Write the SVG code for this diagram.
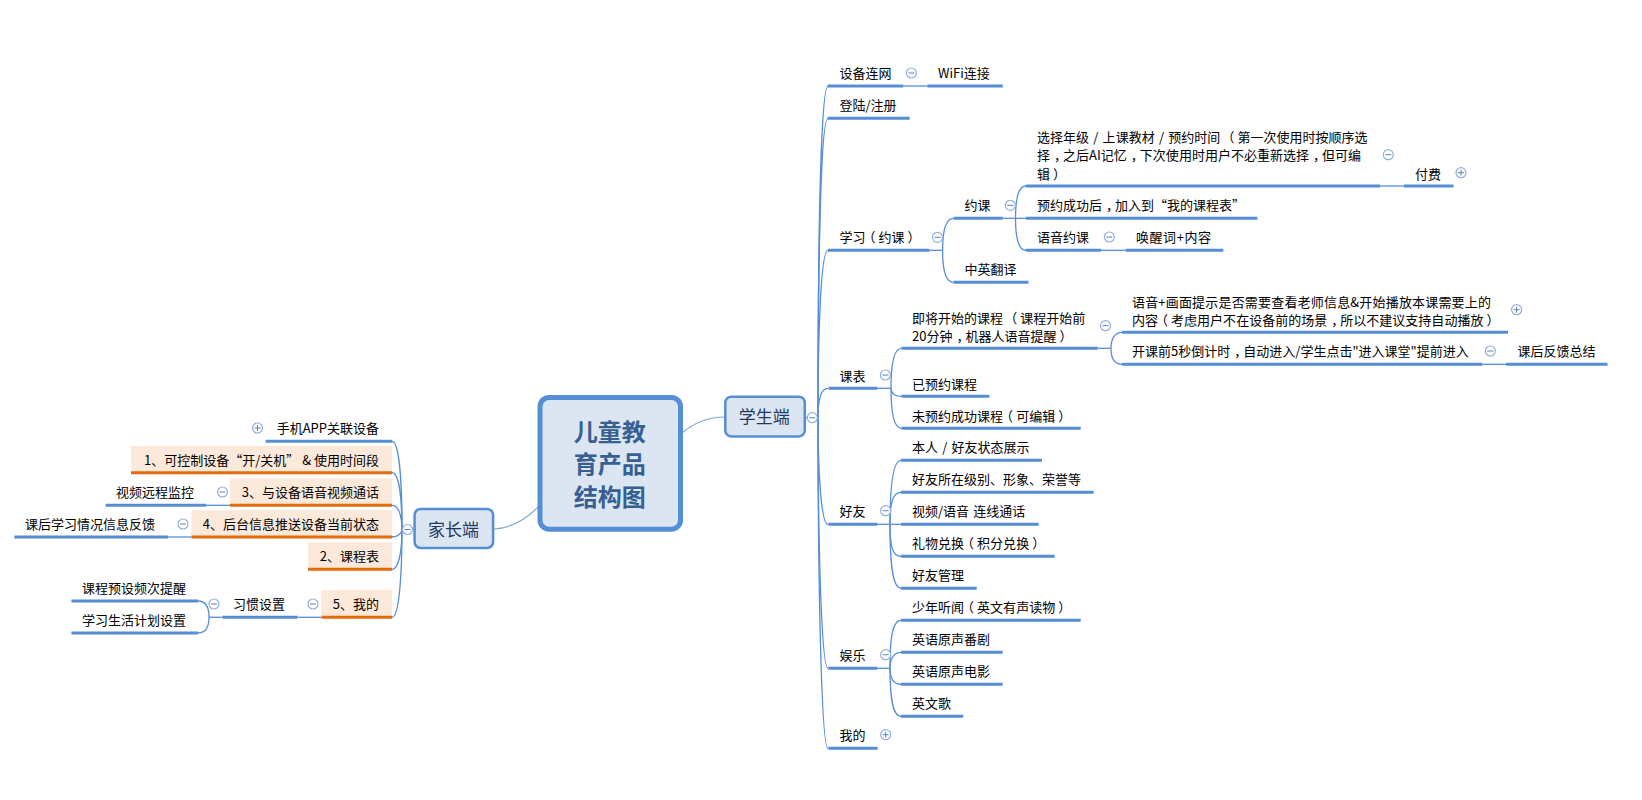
<svg xmlns="http://www.w3.org/2000/svg" width="1642" height="800" viewBox="0 0 1642 800">
<style>
text{font-family:"Noto Sans CJK SC","Noto Sans",sans-serif;font-size:13px;fill:#000;word-spacing:1.3px}
.u{stroke:#558ed5;stroke-width:3;fill:none}
.o{stroke:#e46c0a;stroke-width:3;fill:none}
.f{fill:#fde9d9}
.c{stroke:#558ed5;stroke-width:1.3;fill:none}
.l{stroke:#7ea6dc;stroke-width:1.2;fill:none}
.topic{fill:#dce6f2;stroke:#558ed5;stroke-width:2.500}
.btn circle{fill:#fff;stroke:#8fb0de;stroke-width:1.2}
.btn path{stroke:#5b7fb0;stroke-width:1;fill:none}
text.sub{font-size:17px;fill:#1f3a5f;text-anchor:middle}
text.main{font-size:24px;font-weight:700;fill:#376092;text-anchor:middle}
.e{text-anchor:end}
</style>
<defs>
<g id="minus" class="btn"><circle r="5"/><path d="M-3 0H3"/></g>
<g id="plus" class="btn"><circle r="5"/><path d="M-3 0H3M0 -3V3"/></g>
</defs>
<g id="connectors">
<path class="l" d="M682 433C695 422 708 417 725 417"/>
<path class="l" d="M494 529C512 528 526 520 540 505"/>
<path class="c" d="M805 417.5H818"/>
<path class="c" d="M818 417.5C818 280 820 86 828 86"/>
<path class="c" d="M818 417.5C818 290 820 118.3 828 118.3"/>
<path class="c" d="M818 417.5C818 350 820 250.3 828 250.3"/>
<path class="c" d="M818 417.5C818 402 820 388.3 828 388.3"/>
<path class="c" d="M818 417.5C818 470 821 524.3 828 524.3"/>
<path class="c" d="M818 417.5C818 530 821 668.3 828 668.3"/>
<path class="c" d="M818 417.5C818 570 821 748.3 828 748.3"/>
<path class="c" d="M903.4 86H927.4"/>
<path class="c" d="M929.5 250.3H942.6"/>
<path class="c" d="M942.6 250.3C942.6 232 945 218.3 953.5 218.3"/>
<path class="c" d="M942.6 250.3C942.6 268 945 282.3 953.5 282.3"/>
<path class="c" d="M1002.8 218.3H1026"/>
<path class="c" d="M1015.5 218.3C1015.5 200 1018 186 1026 186"/>
<path class="c" d="M1015.5 218.3C1015.5 236 1018 250.3 1026 250.3"/>
<path class="c" d="M1380 186H1404"/>
<path class="c" d="M1101.3 250.3H1125.7"/>
<path class="c" d="M877.7 388.3H891"/>
<path class="c" d="M891 388.3C891 366 893 348.3 901.4 348.3"/>
<path class="c" d="M891 388.3C891 393 894 396.3 901.4 396.3"/>
<path class="c" d="M891 388.3C891 410 893 428.3 901.4 428.3"/>
<path class="c" d="M1097.7 348.3H1111"/>
<path class="c" d="M1111 348.3C1111 340 1114 332.3 1122 332.3"/>
<path class="c" d="M1111 348.3C1111 357 1114 364.3 1122 364.3"/>
<path class="c" d="M1482.5 364.3H1506"/>
<path class="c" d="M877.7 524.3H901"/>
<path class="c" d="M890 524.3C890 490 892 460.3 901 460.3"/>
<path class="c" d="M890 524.3C890 505 892 492.3 901 492.3"/>
<path class="c" d="M890 524.3C890 545 892 556.3 901 556.3"/>
<path class="c" d="M890 524.3C890 560 892 588.3 901 588.3"/>
<path class="c" d="M877.7 668.3H890"/>
<path class="c" d="M890 668.3C890 640 892 620.3 901 620.3"/>
<path class="c" d="M890 668.3C890 660 893 652.3 901 652.3"/>
<path class="c" d="M890 668.3C890 677 893 684.3 901 684.3"/>
<path class="c" d="M890 668.3C890 695 892 716.3 901 716.3"/>
<path class="c" d="M413.6 529.5H402"/>
<path class="c" d="M402 529.5C402 490 400 441.3 392 441.3"/>
<path class="c" d="M402 529.5C402 505 400 472.7 392 472.7"/>
<path class="c" d="M402 529.5C402 520 400 505.3 392 505.3"/>
<path class="c" d="M402 529.5C402 533 398 537 392 537"/>
<path class="c" d="M402 529.5C402 545 400 569.3 392 569.3"/>
<path class="c" d="M402 529.5C402 565 400 617.3 392 617.3"/>
<path class="c" d="M230 505.3H206.4"/>
<path class="c" d="M191.4 537H168"/>
<path class="c" d="M321.4 617.3H297.5"/>
<path class="c" d="M222.5 617.3H209"/>
<path class="c" d="M209 617.3C209 608 206 601 198 601"/>
<path class="c" d="M209 617.3C209 626 206 633 198 633"/>
</g>
<g id="root"><rect x="540" y="397.5" width="140.500" height="131.700" rx="9" fill="#dce6f2" stroke="#558ed5" stroke-width="5"/>
<text class="main" x="609.700" y="440.500">儿童教</text><text class="main" x="609.700" y="473">育产品</text><text class="main" x="609.700" y="505.500">结构图</text></g>
<g id="student"><rect class="topic" x="725.300" y="396.700" width="79.500" height="39.700" rx="6"/><text class="sub" x="764.300" y="423">学生端</text><use href="#minus" x="812.300" y="417.700"/></g>
<g id="parent"><rect class="topic" x="414.600" y="509" width="78.500" height="39" rx="6"/><text class="sub" x="453.600" y="535.500">家长端</text><use href="#minus" x="407.500" y="529.500"/></g>

<g id="s-net"><text x="839.500" y="78">设备连网</text><path class="u" d="M828 86H903.400"/><use href="#minus" x="911.400" y="73"/></g>
<g id="s-wifi"><text x="938" y="78">WiFi连接</text><path class="u" d="M927.400 86H1002.800"/></g>
<g id="s-login"><text x="839.500" y="110">登陆/注册</text><path class="u" d="M828 118.300H909.700"/></g>
<g id="s-study"><text x="839.500" y="242" dx="0 0 -3 3 0 3">学习（约课）</text><path class="u" d="M828 250.300H929.500"/><use href="#minus" x="937.500" y="237.300"/></g>
<g id="s-book"><text x="964.500" y="210">约课</text><path class="u" d="M953.500 218.300H1002.800"/><use href="#minus" x="1010.300" y="205.300"/></g>
<g id="s-trans"><text x="964.500" y="274">中英翻译</text><path class="u" d="M953.500 282.300H1028.400"/></g>
<g id="s-select"><text x="1037" y="142" dx="0 0 0 0 0 0 0 0 0 0 0 0 0 0 0 0 0 0 0 -3 3">选择年级 / 上课教材 / 预约时间 （第一次使用时按顺序选</text><text x="1037" y="160" dx="0 4 -4 0 0 0 0 0 4 -4 0 0 0 0 0 0 0 0 0 0 0 0 4 -4">择，之后AI记忆，下次使用时用户不必重新选择，但可编</text><text x="1037" y="178.500" dx="0 3">辑）</text><path class="u" d="M1026 186H1380"/><use href="#minus" x="1388.300" y="154.700"/></g>
<g id="s-pay"><text x="1415" y="178.500">付费</text><path class="u" d="M1404 186H1453.500"/><use href="#plus" x="1461" y="172.700"/></g>
<g id="s-added"><text x="1037" y="210" dx="0 0 0 0 0 4 -4">预约成功后，加入到“我的课程表”</text><path class="u" d="M1026 218.300H1257.400"/></g>
<g id="s-voice"><text x="1037" y="242">语音约课</text><path class="u" d="M1026 250.300H1101.300"/><use href="#minus" x="1109.300" y="237"/></g>
<g id="s-wake"><text x="1136" y="242" textLength="75">唤醒词+内容</text><path class="u" d="M1125.700 250.300H1223.300"/></g>
<g id="s-table"><text x="839.500" y="380.500">课表</text><path class="u" d="M828.500 388.300H877.700"/><use href="#minus" x="885.400" y="375"/></g>
<g id="s-soon"><text x="912" y="322.500" dx="0 0 0 0 0 0 0 0 -3 3">即将开始的课程 （课程开始前</text><text x="912" y="340.500" dx="0 0 0 0 4 -4 0 0 0 0 0 0 3">20分钟，机器人语音提醒）</text><path class="u" d="M901.400 348.300H1097.700"/><use href="#minus" x="1105.500" y="325.700"/></g>
<g id="s-prompt"><text x="1132" y="306.500" textLength="359">语音+画面提示是否需要查看老师信息&amp;开始播放本课需要上的</text><text x="1132" y="324.800" dx="0 0 -3 3 0 0 0 0 0 0 0 0 0 0 0 4 -4 0 0 0 0 0 0 0 0 0 0 3">内容（考虑用户不在设备前的场景，所以不建议支持自动播放）</text><path class="u" d="M1122 332.300H1508"/><use href="#plus" x="1516.600" y="309.700"/></g>
<g id="s-count"><text x="1132" y="356" dx="0 0 0 0 0 0 0 0 4 -4">开课前5秒倒计时，自动进入/学生点击"进入课堂"提前进入</text><path class="u" d="M1122 364.300H1482.500"/><use href="#minus" x="1490.300" y="351"/></g>
<g id="s-feedback"><text x="1517.600" y="356">课后反馈总结</text><path class="u" d="M1506 364.300H1607.500"/></g>
<g id="s-booked"><text x="912" y="388.500">已预约课程</text><path class="u" d="M901.400 396.300H989.300"/></g>
<g id="s-unbooked"><text x="912" y="420.500" dx="0 0 0 0 0 0 0 -3 3 0 0 3">未预约成功课程（可编辑）</text><path class="u" d="M901.400 428.300H1080.700"/></g>
<g id="s-friend"><text x="839.500" y="516">好友</text><path class="u" d="M828.300 524.300H877.700"/><use href="#minus" x="885.700" y="510.700"/></g>
<g id="s-f1"><text x="912" y="452">本人 / 好友状态展示</text><path class="u" d="M901 460.300H1042"/></g>
<g id="s-f2"><text x="912" y="484">好友所在级别、形象、荣誉等</text><path class="u" d="M901 492.300H1093.700"/></g>
<g id="s-f3"><text x="912" y="516">视频/语音 连线通话</text><path class="u" d="M901 524.300H1038.700"/></g>
<g id="s-f4"><text x="912" y="548" dx="0 0 0 0 -3 3 0 0 0 3">礼物兑换（积分兑换）</text><path class="u" d="M901 556.300H1054.700"/></g>
<g id="s-f5"><text x="912" y="580">好友管理</text><path class="u" d="M901 588.300H976.700"/></g>
<g id="s-fun"><text x="839.500" y="660">娱乐</text><path class="u" d="M828.300 668.300H877.700"/><use href="#minus" x="885.700" y="654.700"/></g>
<g id="s-e1"><text x="912" y="612" dx="0 0 0 0 -3 3 0 0 0 0 0 3">少年听闻（英文有声读物）</text><path class="u" d="M901 620.300H1080.700"/></g>
<g id="s-e2"><text x="912" y="644">英语原声番剧</text><path class="u" d="M901 652.300H1002.700"/></g>
<g id="s-e3"><text x="912" y="676">英语原声电影</text><path class="u" d="M901 684.300H1002.700"/></g>
<g id="s-e4"><text x="912" y="708">英文歌</text><path class="u" d="M901 716.300H963.300"/></g>
<g id="s-mine"><text x="839.500" y="740">我的</text><path class="u" d="M828.300 748.300H877.700"/><use href="#plus" x="885.700" y="734.700"/></g>

<g id="p-app"><text class="e" x="379" y="433">手机APP关联设备</text><path class="u" d="M265.700 441.300H392"/><use href="#plus" x="257.500" y="428"/></g>
<g id="p-1"><rect class="f" x="131" y="446" width="261" height="27"/><text class="e" x="379" y="465" style="word-spacing:0">1、可控制设备“开/关机” &amp; 使用时间段</text><path class="o" d="M131 472.700H392"/></g>
<g id="p-3"><rect class="f" x="230" y="478.300" width="162" height="27"/><text class="e" x="379" y="497">3、与设备语音视频通话</text><path class="o" d="M230 505.300H392"/><use href="#minus" x="222.500" y="492"/></g>
<g id="p-monitor"><text class="e" x="194" y="497">视频远程监控</text><path class="u" d="M105.700 505.300H206.400"/></g>
<g id="p-4"><rect class="f" x="191.400" y="510.300" width="200.600" height="27"/><text class="e" x="379" y="529">4、后台信息推送设备当前状态</text><path class="o" d="M191.400 537H392"/><use href="#minus" x="183" y="524"/></g>
<g id="p-report"><text class="e" x="155" y="529">课后学习情况信息反馈</text><path class="u" d="M14.300 537H168"/></g>
<g id="p-2"><rect class="f" x="308" y="542.300" width="84" height="27"/><text class="e" x="379" y="561">2、课程表</text><path class="o" d="M308 569.300H392"/></g>
<g id="p-5"><rect class="f" x="321.400" y="590" width="70.600" height="27"/><text class="e" x="379" y="609">5、我的</text><path class="o" d="M321.400 617.300H392"/><use href="#minus" x="313" y="604"/></g>
<g id="p-habit"><text class="e" x="285" y="609">习惯设置</text><path class="u" d="M222.500 617.300H297.500"/><use href="#minus" x="214" y="604"/></g>
<g id="p-remind"><text class="e" x="186" y="593">课程预设频次提醒</text><path class="u" d="M71.400 601H198"/></g>
<g id="p-plan"><text class="e" x="186" y="625">学习生活计划设置</text><path class="u" d="M71.400 633H198"/></g>
</svg>
